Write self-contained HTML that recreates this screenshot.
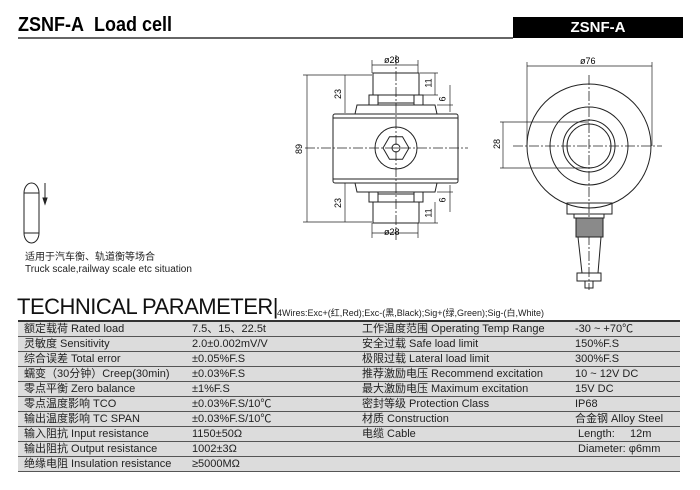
<!DOCTYPE html>
<html><head><meta charset="utf-8"><style>
body{margin:0;width:700px;height:490px;background:#fff;overflow:hidden;position:relative;font-family:"Liberation Sans","Noto Sans CJK SC",sans-serif;}
.a{position:absolute;white-space:nowrap;}
table{position:absolute;left:18px;top:320px;width:662px;border-collapse:collapse;border-top:2px solid #333;font-size:11px;color:#222;}
td{height:14px;padding:0 0 0 6px;border-bottom:1px solid #555;background:#dcdcdc;line-height:14px;white-space:nowrap;}
</style></head><body>
<div class="a" style="left:18px;top:14px;font-size:20px;font-weight:bold;transform:scaleX(0.9);transform-origin:left;">ZSNF-A&nbsp; Load cell</div>
<div class="a" style="left:18px;top:37px;width:495px;height:2px;background:#666;"></div>
<div class="a" style="left:513px;top:17px;width:170px;height:21px;background:#000;color:#fff;font-weight:bold;font-size:15px;line-height:21px;text-align:center;">ZSNF-A</div>

<svg class="a" style="left:0;top:0" width="700" height="300" stroke="#222" fill="none" stroke-width="1">
<rect x="24" y="193" width="15" height="40"/>
<path d="M24 193 A7.5 10 0 0 1 39 193"/><path d="M24 233 A7.5 10 0 0 0 39 233"/>
<line x1="45" y1="183" x2="45" y2="201"/><path d="M43 198 L45 204 L47 198Z" fill="#222"/>
<g>
<rect x="373" y="73" width="46" height="22"/>
<rect x="369" y="95" width="9" height="10"/><rect x="414" y="95" width="9" height="10"/>
<line x1="378" y1="103" x2="414" y2="103"/>
<path d="M355 114 L357 105 L435 105 L437 114"/>
<rect x="333" y="114" width="125" height="69" rx="2"/>
<line x1="333" y1="118" x2="458" y2="118"/><line x1="333" y1="179" x2="458" y2="179"/>
<path d="M355 183 L357 192 L435 192 L437 183"/>
<rect x="369" y="192" width="9" height="10"/><rect x="414" y="192" width="9" height="10"/>
<line x1="378" y1="194" x2="414" y2="194"/>
<rect x="373" y="202" width="46" height="21"/>
<circle cx="396" cy="148" r="21"/>
<polygon points="383,148 389.5,136.7 402.5,136.7 409,148 402.5,159.3 389.5,159.3"/>
<circle cx="396" cy="148" r="4"/>
<g stroke-dasharray="10,2,2,2" stroke-width="0.8"><line x1="305" y1="148" x2="468" y2="148"/><line x1="396" y1="55" x2="396" y2="240"/></g>
<g stroke-width="0.7">
<line x1="372" y1="65" x2="418" y2="65"/><line x1="372" y1="60" x2="372" y2="73"/><line x1="418" y1="60" x2="418" y2="73"/>
<line x1="372" y1="233" x2="418" y2="233"/><line x1="372" y1="223" x2="372" y2="238"/><line x1="418" y1="223" x2="418" y2="238"/>
<line x1="307" y1="75" x2="307" y2="222"/><line x1="303" y1="75" x2="372" y2="75"/><line x1="303" y1="222" x2="372" y2="222"/>
<line x1="345" y1="75" x2="345" y2="113"/><line x1="345" y1="183" x2="345" y2="222"/>
<line x1="435" y1="73" x2="435" y2="95"/><line x1="420" y1="73" x2="438" y2="73"/><line x1="420" y1="95" x2="438" y2="95"/>
<line x1="450" y1="85" x2="450" y2="112"/><line x1="437" y1="105" x2="453" y2="105"/>
<line x1="450" y1="185" x2="450" y2="212"/><line x1="437" y1="192" x2="453" y2="192"/>
<line x1="435" y1="202" x2="435" y2="223"/><line x1="420" y1="223" x2="438" y2="223"/>
</g>
</g>
<circle cx="589" cy="146" r="62"/>
<circle cx="589" cy="146" r="39"/>
<circle cx="589" cy="146" r="26"/>
<circle cx="589" cy="146" r="22"/>
<g stroke-dasharray="10,2,2,2" stroke-width="0.8"><line x1="513" y1="146" x2="662" y2="146"/><line x1="589" y1="75" x2="589" y2="290"/></g>
<g stroke-width="0.7">
<line x1="527" y1="66" x2="652" y2="66"/><line x1="527" y1="62" x2="527" y2="146"/><line x1="652" y1="62" x2="652" y2="146"/>
<line x1="503" y1="122" x2="503" y2="168"/><line x1="500" y1="122" x2="589" y2="122"/><line x1="500" y1="168" x2="589" y2="168"/>
</g>
<rect x="567" y="203" width="45" height="11"/>
<rect x="574" y="214" width="30" height="4"/>
<rect x="576" y="218" width="27" height="19" fill="#8a8a8a"/>
<path d="M578 237 L582 273 L598 273 L601 237"/>
<rect x="577" y="273" width="24" height="8"/>
<rect x="585" y="281" width="8" height="7"/>
</svg>
<div class="a" style="left:384px;top:55px;font-size:9px;">ø28</div>
<div class="a" style="left:384px;top:227px;font-size:9px;">ø28</div>
<div class="a" style="left:580px;top:56px;font-size:9px;">ø76</div>
<div class="a" style="left:294px;top:144px;font-size:9px;transform:rotate(-90deg);">89</div>
<div class="a" style="left:333px;top:89px;font-size:9px;transform:rotate(-90deg);">23</div>
<div class="a" style="left:333px;top:198px;font-size:9px;transform:rotate(-90deg);">23</div>
<div class="a" style="left:424px;top:78px;font-size:9px;transform:rotate(-90deg);">11</div>
<div class="a" style="left:424px;top:208px;font-size:9px;transform:rotate(-90deg);">11</div>
<div class="a" style="left:440px;top:94px;font-size:9px;transform:rotate(-90deg);">6</div>
<div class="a" style="left:440px;top:195px;font-size:9px;transform:rotate(-90deg);">6</div>
<div class="a" style="left:492px;top:139px;font-size:9px;transform:rotate(-90deg);">28</div>

<div class="a" style="left:25px;top:252px;font-size:10px;line-height:11px;color:#222;">适用于汽车衡、轨道衡等场合</div>
<div class="a" style="left:25px;top:264px;font-size:10px;line-height:11px;color:#222;">Truck scale,railway scale etc situation</div>

<div class="a" style="left:17px;top:294px;font-size:22px;color:#111;letter-spacing:-0.5px;">TECHNICAL PARAMETER|</div>
<div class="a" style="left:277px;top:306px;font-size:9px;color:#222;">4Wires:Exc+(红,Red);Exc-(黑,Black);Sig+(绿,Green);Sig-(白,White)</div>

<table>
<tr><td style="width:162px">额定载荷 Rated load</td><td style="width:164px">7.5、15、22.5t</td><td style="width:207px">工作温度范围 Operating Temp Range</td><td>-30 ~ +70℃</td></tr>
<tr><td>灵敏度 Sensitivity</td><td>2.0±0.002mV/V</td><td>安全过载 Safe load limit</td><td>150%F.S</td></tr>
<tr><td>综合误差 Total error</td><td>±0.05%F.S</td><td>极限过载 Lateral load limit</td><td>300%F.S</td></tr>
<tr><td>蠕变（30分钟）Creep(30min)</td><td>±0.03%F.S</td><td>推荐激励电压 Recommend excitation</td><td>10 ~ 12V DC</td></tr>
<tr><td>零点平衡 Zero balance</td><td>±1%F.S</td><td>最大激励电压 Maximum excitation</td><td>15V DC</td></tr>
<tr><td>零点温度影响 TCO</td><td>±0.03%F.S/10℃</td><td>密封等级 Protection Class</td><td>IP68</td></tr>
<tr><td>输出温度影响 TC SPAN</td><td>±0.03%F.S/10℃</td><td>材质 Construction</td><td>合金钢 Alloy Steel</td></tr>
<tr><td>输入阻抗 Input resistance</td><td>1150±50Ω</td><td>电缆 Cable</td><td>&nbsp;Length:&nbsp;&nbsp;&nbsp;&nbsp;&nbsp;12m</td></tr>
<tr><td>输出阻抗 Output resistance</td><td>1002±3Ω</td><td></td><td>&nbsp;Diameter: φ6mm</td></tr>
<tr><td>绝缘电阻 Insulation resistance</td><td>≥5000MΩ</td><td></td><td></td></tr>
</table>
</body></html>
